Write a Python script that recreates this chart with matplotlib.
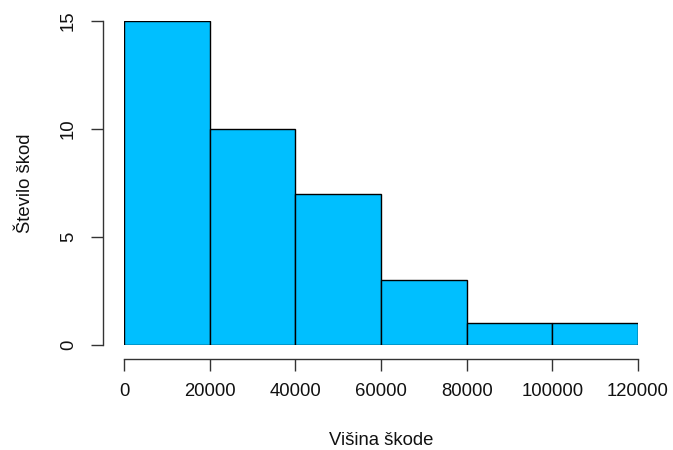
import numpy as np
import matplotlib
matplotlib.use("Agg")
import matplotlib.pyplot as plt

plt.rcParams['font.family'] = ['Liberation Sans', 'DejaVu Sans']

# histogram bins and counts
bin_edges = [0, 20000, 40000, 60000, 80000, 100000, 120000]
counts = [15, 10, 7, 3, 1, 1]
x_ticks = [0, 20000, 40000, 60000, 80000, 100000, 120000]
y_ticks = [0, 5, 10, 15]

W, H = 673, 450
fig = plt.figure(figsize=(W / 100, H / 100), dpi=100)
# plot region in pixels: x 124..638, y 21..345
ax = fig.add_axes([124 / W, (H - 345) / H, 514 / W, 324 / H])

widths = np.diff(bin_edges)
ax.bar(bin_edges[:-1], counts, width=widths, align='edge',
       color='#00BFFF', edgecolor='black', linewidth=1.0)

ax.set_xlim(bin_edges[0], bin_edges[-1])
ax.set_ylim(0, 15)

for s in ['top', 'right']:
    ax.spines[s].set_visible(False)
px = 72 / 100
ax.spines['left'].set_position(('outward', 21 * px))
ax.spines['bottom'].set_position(('outward', 14 * px))
ax.spines['left'].set_bounds(0, 15)
ax.spines['bottom'].set_bounds(0, 120000)
for s in ['left', 'bottom']:
    ax.spines[s].set_color('#333333')
    ax.spines[s].set_linewidth(1.0)

ax.set_xticks(x_ticks)
ax.set_xticklabels([str(t) for t in x_ticks])
ax.set_yticks(y_ticks)
ax.set_yticklabels([str(t) for t in y_ticks], rotation=90, va='center')
ax.tick_params(axis='both', length=12 * px, width=1.0, color='#333333',
               labelsize=13.3, labelcolor='#111111')
ax.tick_params(axis='x', pad=9)
ax.tick_params(axis='y', pad=10)

ax.set_xlabel('Višina škode', fontsize=13.3, color='#111111', labelpad=23)
ax.set_ylabel('Število škod', fontsize=13.3, color='#111111', labelpad=19)

fig.savefig('out.png', dpi=100)
